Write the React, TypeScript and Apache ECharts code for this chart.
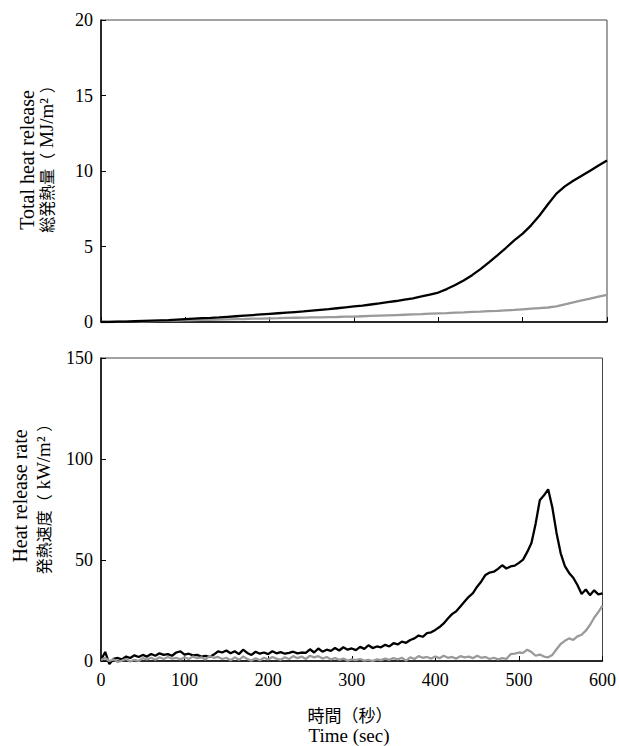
import React, { useEffect, useRef } from "react";
import * as echarts from "echarts";

// Time axis (seconds)
const xTicks = [0, 100, 200, 300, 400, 500, 600];
const thrTimes = Array.from({ length: 61 }, (_, i) => i * 10);
const hrrTimes = Array.from({ length: 121 }, (_, i) => i * 5);

// Total heat release (MJ/m2), every 10 s
const thrBlack = [
  0, 0.0, 0.02, 0.03, 0.05, 0.07, 0.09, 0.11, 0.13, 0.16,
  0.19, 0.22, 0.25, 0.27, 0.3, 0.34, 0.38, 0.42, 0.46, 0.5,
  0.54, 0.58, 0.62, 0.66, 0.7, 0.75, 0.8, 0.85, 0.91, 0.97,
  1.03, 1.09, 1.16, 1.23, 1.31, 1.39, 1.48, 1.57, 1.69, 1.82,
  1.95, 2.18, 2.45, 2.75, 3.1, 3.5, 3.95, 4.42, 4.9, 5.4,
  5.85, 6.4, 7.05, 7.8, 8.5, 8.98, 9.35, 9.68, 10.02, 10.36,
  10.7,
];
const thrGray = [
  0, 0.01, 0.02, 0.03, 0.04, 0.05, 0.06, 0.07, 0.09, 0.1,
  0.11, 0.12, 0.14, 0.15, 0.16, 0.18, 0.19, 0.2, 0.22, 0.23,
  0.24, 0.25, 0.27, 0.28, 0.29, 0.3, 0.31, 0.32, 0.33, 0.35,
  0.36, 0.38, 0.4, 0.42, 0.44, 0.46, 0.48, 0.5, 0.52, 0.55,
  0.57, 0.59, 0.62, 0.64, 0.67, 0.69, 0.72, 0.74, 0.77, 0.8,
  0.84, 0.88, 0.92, 0.96, 1.04, 1.17, 1.3, 1.43, 1.55, 1.68,
  1.8,
];

// Heat release rate (kW/m2), every 5 s
const hrrBlack = [
  0.5, 4.5, -1.5, 1.0, 1.5, 0.8, 2.2, 1.5, 2.8, 2.0,
  3.0, 2.2, 3.5, 2.6, 3.8, 3.0, 3.4, 2.6, 4.2, 4.8,
  3.2, 3.6, 2.8, 3.0, 2.2, 2.5, 2.0, 3.2, 4.8, 4.2,
  5.2, 3.8, 4.8, 3.4, 5.6, 4.0, 3.0, 4.6, 3.6, 4.2,
  3.4, 4.8, 3.8, 4.4, 3.6, 4.0, 4.6, 3.8, 4.2, 4.0,
  5.8, 4.2, 6.2, 4.6, 5.6, 5.0, 6.4, 5.2, 6.8, 5.6,
  6.2, 5.4, 7.0, 6.0, 7.8, 6.4, 7.2, 6.8, 8.0, 7.2,
  8.8, 8.2, 9.6, 9.0, 10.4, 11.2, 12.6, 12.0, 13.8, 14.2,
  15.4, 16.8, 18.6, 21.0, 23.2, 24.6, 27.0, 29.4, 31.8, 33.6,
  36.8, 39.4, 42.6, 43.8, 44.2, 45.6, 47.4, 45.8, 46.8, 47.2,
  48.6, 50.2, 54.0, 58.4, 68.0, 79.6, 82.0, 85.0, 76.0, 63.4,
  53.3, 47.0, 43.6, 41.2, 37.6, 33.2, 35.4, 32.6, 35.0, 33.0,
  33.5,
];
const hrrGray = [
  0.5, 1.5, 0.0, 0.8, -0.5, 0.2, 1.0, -0.2, 0.6, 0.0,
  1.4, 0.8, 1.6, 0.6, 1.8, 1.0, 2.0, 1.2, 1.6, 0.8,
  1.8, 1.0, 2.2, 1.4, 1.8, 0.8, 2.4, 1.6, 2.0, 1.0,
  1.6, 0.4, 1.8, 0.6, 2.2, 1.0, 0.2, 1.4, 0.4, 1.6,
  0.8, 2.0, 1.2, 0.6, 1.8, 1.0, 2.4, 1.4, 2.2, 1.0,
  2.6, 1.8, 2.4, 1.2, 2.0, 0.8, 1.4, 0.6, 1.2, 0.2,
  0.8, 0.4, 1.0, 0.2, 0.6, 0.0, 0.8, 0.4, 1.2, 0.6,
  1.4, 0.8, 1.6, 0.2, 1.8, 1.0, 2.4, 1.6, 2.0, 1.2,
  2.2, 1.4, 2.6, 1.6, 2.0, 1.2, 2.4, 1.8, 2.2, 1.4,
  2.6, 1.6, 2.0, 1.0, 1.6, 0.8, 1.4, 1.0, 3.4, 3.6,
  4.2, 4.0, 5.6, 4.4, 2.6, 3.2, 2.2, 1.8, 3.0, 5.8,
  8.4, 10.0, 11.2, 10.4, 12.2, 13.0, 15.0, 17.8, 21.4, 24.2,
  27.4,
];

const SERIF = "'Liberation Serif', 'Times New Roman', serif";
const CJK = "'Noto Sans CJK JP', sans-serif";

export default function App() {
  const ref = useRef<HTMLDivElement>(null);

  useEffect(() => {
    const chart = echarts.init(ref.current!, null, { renderer: "svg" });
    const pair = (ts: number[], vs: number[]) => ts.map((t, i) => [t, vs[i]]);

    const xAxisBase = (gridIndex: number, showLabel: boolean) => ({
      type: "value",
      gridIndex,
      min: 0,
      max: 600,
      interval: 100,
      axisLine: { show: true, onZero: false, lineStyle: { color: "#000", width: 1.5 } },
      axisTick: { show: true, inside: true, length: 5, lineStyle: { color: "#000", width: 1 } },
      axisLabel: {
        show: showLabel,
        color: "#000",
        fontFamily: SERIF,
        fontSize: 18,
        margin: 10,
        formatter: (v: number) => (xTicks.includes(v) ? String(v) : ""),
      },
      splitLine: { show: false },
    });

    const yAxisBase = (gridIndex: number, max: number, interval: number) => ({
      type: "value",
      gridIndex,
      min: 0,
      max,
      interval,
      axisLine: { show: true, lineStyle: { color: "#000", width: 1.5 } },
      axisTick: { show: true, inside: true, length: 5, lineStyle: { color: "#000", width: 1 } },
      axisLabel: { color: "#000", fontFamily: SERIF, fontSize: 18, margin: 8 },
      splitLine: { show: false },
    });

    const rotatedLabel = (x: number, y: number, text: string, rich?: any) => ({
      type: "text",
      x,
      y,
      rotation: Math.PI / 2,
      style: {
        text,
        fill: "#000",
        font: `20px ${SERIF}`,
        align: "center",
        verticalAlign: "middle",
        rich,
      },
    });

    const richJa = {
      j: { fontFamily: CJK, fontSize: 16, fill: "#000" },
      r: { fontFamily: SERIF, fontSize: 19, fill: "#000" },
    };

    chart.setOption({
      animation: false,
      backgroundColor: "#fff",
      grid: [
        { left: 101, top: 20, width: 506, height: 302, show: true, borderColor: "#444", borderWidth: 1, backgroundColor: "transparent" },
        { left: 101, top: 358, width: 506, height: 303, show: true, borderColor: "#444", borderWidth: 1, backgroundColor: "transparent" },
      ],
      xAxis: [xAxisBase(0, false), xAxisBase(1, true)],
      yAxis: [yAxisBase(0, 20, 5), yAxisBase(1, 150, 50)],
      series: [
        {
          type: "line", xAxisIndex: 0, yAxisIndex: 0, showSymbol: false,
          data: pair(thrTimes, thrGray), lineStyle: { color: "#9a9a9a", width: 2.3 }, z: 2,
        },
        {
          type: "line", xAxisIndex: 0, yAxisIndex: 0, showSymbol: false,
          data: pair(thrTimes, thrBlack), lineStyle: { color: "#000", width: 2.3 }, z: 3,
        },
        {
          type: "line", xAxisIndex: 1, yAxisIndex: 1, showSymbol: false, clip: false,
          data: pair(hrrTimes, hrrBlack), lineStyle: { color: "#000", width: 2.3 }, z: 2,
        },
        {
          type: "line", xAxisIndex: 1, yAxisIndex: 1, showSymbol: false, clip: false,
          data: pair(hrrTimes, hrrGray), lineStyle: { color: "#9a9a9a", width: 2.3 }, z: 3,
        },
      ],
      graphic: [
        rotatedLabel(27, 160, "Total heat release"),
        rotatedLabel(46, 155, "{j|総発熱量（}{r| MJ/m² }{j|）}", richJa),
        rotatedLabel(20, 496, "Heat release rate"),
        rotatedLabel(43, 495, "{j|発熱速度（}{r| kW/m² }{j|）}", richJa),
        {
          type: "text", x: 350, y: 714,
          style: { text: "時間（秒）", fill: "#000", font: `17px ${CJK}`, lineHeight: 18, align: "center", verticalAlign: "middle" },
        },
        {
          type: "text", x: 349, y: 735,
          style: { text: "Time (sec)", fill: "#000", font: `19px ${SERIF}`, lineHeight: 19, align: "center", verticalAlign: "middle" },
        },
      ],
    });

    return () => chart.dispose();
  }, []);

  return (
    <div
      ref={ref}
      style={{ position: "fixed", left: 0, top: 0, width: 619, height: 746, background: "#fff" }}
    />
  );
}
